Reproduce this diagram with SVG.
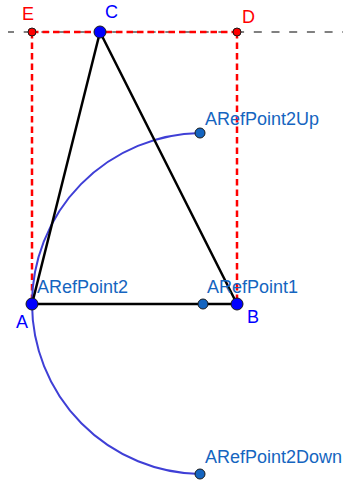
<svg xmlns="http://www.w3.org/2000/svg" width="343" height="481" viewBox="0 0 343 481">
<style>
.lbl{font-family:"Liberation Sans",Arial,sans-serif;font-size:18px}
.ref{fill:#1565c0}
.blue{fill:#0000ff}
.red{fill:#ff0000}
.seg{stroke:#000;stroke-width:2.5;fill:none;stroke-linecap:round}
.rd{stroke:#ff0000;stroke-width:2.5;stroke-dasharray:6.5 4;fill:none}
.pt{stroke:#1a1a1a;stroke-width:1}
</style>
<rect width="343" height="481" fill="#fff"/>
<g id="connectors">
<line x1="8" y1="32" x2="343" y2="32" stroke="#808080" stroke-width="2" stroke-dasharray="8 9.7" stroke-dashoffset="2"/>
<line class="rd" x1="32" y1="32" x2="237" y2="32"/>
<line class="rd" x1="32" y1="32" x2="32" y2="304"/>
<line class="rd" x1="237" y1="32" x2="237" y2="304"/>
<path d="M200 133 A171 171 0 0 0 32 304 A171 171 0 0 0 200 474" stroke="#3f3fd6" stroke-width="2" fill="none"/>
<line class="seg" x1="32" y1="304" x2="100" y2="32"/>
<line class="seg" x1="100" y1="32" x2="237" y2="304"/>
<line class="seg" x1="32" y1="304" x2="237" y2="304"/>
</g>
<g id="E"><circle class="pt red" cx="32" cy="32" r="4"/><text class="lbl red" x="22" y="20">E</text></g>
<g id="D"><circle class="pt red" cx="237" cy="32" r="4"/><text class="lbl red" x="242" y="23">D</text></g>
<g id="C"><circle class="pt blue" cx="100" cy="32" r="6"/><text class="lbl blue" x="105" y="18">C</text></g>
<g id="ARefPoint2Up"><circle class="pt ref" cx="200" cy="133" r="5"/><text class="lbl ref" x="205" y="125">ARefPoint2Up</text></g>
<g id="ARefPoint2Down"><circle class="pt ref" cx="200" cy="474" r="5"/><text class="lbl ref" x="205" y="463">ARefPoint2Down</text></g>
<g id="ARefPoint1"><circle class="pt ref" cx="203" cy="304" r="5"/><text class="lbl ref" x="207" y="293">ARefPoint1</text></g>
<g id="A"><circle class="pt blue" cx="32" cy="304" r="6"/><text class="lbl blue" x="16" y="328">A</text></g>
<g id="ARefPoint2"><text class="lbl ref" x="37" y="293">ARefPoint2</text></g>
<g id="B"><circle class="pt blue" cx="237" cy="304" r="6"/><text class="lbl blue" x="247" y="323">B</text></g>
</svg>
